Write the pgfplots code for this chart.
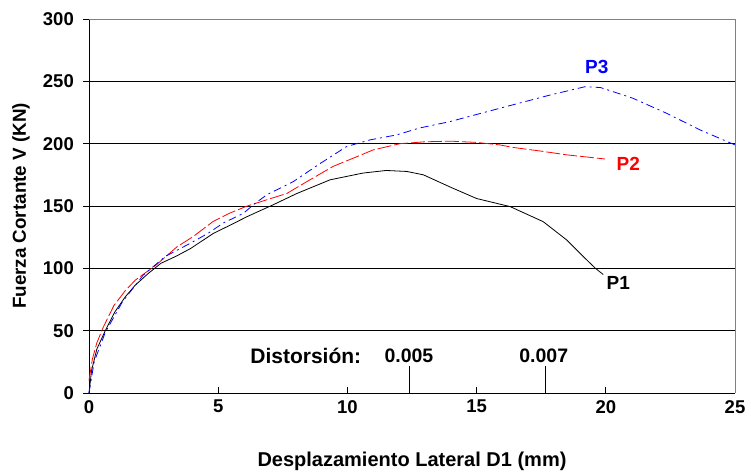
\documentclass[border=0pt]{standalone}
\usepackage{fontspec}
\setmainfont{Liberation Sans}
\usepackage{pgfplots}
\pgfplotsset{compat=1.18}
\usetikzlibrary{calc}
\begin{document}
\fontsize{18}{21}\selectfont\bfseries
\begin{tikzpicture}
\begin{axis}[name=ax,
  scale only axis, width=646pt, height=374pt,
  xmin=0, xmax=25, ymin=0, ymax=300,
  xtick={0,5,...,25}, ytick={0,50,...,300},
  axis lines*=left,
  axis line style={black, line width=0.8pt},
  tick align=inside,
  major tick length=6pt,
  tick style={black, line width=0.8pt},
  ytick style={xshift=-6pt},
  ymajorgrids, major grid style={black, line width=0.8pt},
  /pgf/number format/assume math mode=true,
  ticklabel style={font=\fontsize{18.5}{21}\selectfont\bfseries},
  yticklabel style={xshift=-9pt},
  xticklabel style={yshift=-1pt},
  xlabel={Desplazamiento Lateral D1 (mm)},
  ylabel={Fuerza Cortante V (KN)},
  xlabel style={font=\fontsize{20}{24}\selectfont\bfseries, yshift=-27pt},
  ylabel style={font=\fontsize{18.8}{22}\selectfont\bfseries, yshift=1pt},
  clip=false,
]
\addplot[black, line width=0.8pt] coordinates {
(0,0)(0.1,18)(0.3,35)(0.63,50)(1.0,65)(1.4,77)(1.79,86.5)(2.3,96)(2.78,104)(3.4,110)(3.94,116)(4.81,128)(5.5,135)(6.1,141.3)(7.13,151)(8.04,160)(9.33,171)(10.6,176.4)(11.5,178.5)(12.3,177.7)(12.94,175)(14,165)(15,156)(16.3,149.5)(17.58,137.4)(18.49,122.7)(19.2,108)(19.6,100)(19.9,95)};
\addplot[red, line width=0.8pt, dash pattern=on 14pt off 3pt] coordinates {
(0,10)(0.13,27)(0.3,40)(0.55,52.7)(0.96,70)(1.4,82)(1.79,90.5)(2.6,102.7)(3.39,117)(4.04,125.6)(4.81,137.7)(5.46,144.4)(6.1,149.8)(6.88,155)(7.65,160)(8.55,171)(9.45,181.8)(10.3,189)(11,195)(12.04,200)(13,201.5)(14,202)(15,201)(15.9,199)(16.4,197)(17.5,194)(18.5,191)(19.97,187.7)};
\addplot[blue, line width=0.8pt, dash pattern=on 8pt off 4pt on 2pt off 4pt] coordinates {
(0,0)(0.2,25)(0.63,48.6)(1.29,73)(2.1,94.6)(2.95,109.5)(3.91,120)(4.6,128)(5.2,136.4)(5.97,144)(6.36,151)(6.88,159)(7.9,169.5)(8.94,184)(9.97,197.7)(10.87,203)(11.9,207)(12.8,212.6)(13.97,217.7)(15.9,228.4)(17.84,239)(19.2,245.7)(19.8,245)(21.05,236.4)(22.36,224.3)(23.65,211)(25,199)};
\draw[gray, line width=0.8pt] (rel axis cs:0,1) -- (rel axis cs:1,1) -- (rel axis cs:1,0);
\draw[black, line width=0.8pt] (axis cs:12.4,0) -- (axis cs:12.4,21.6);
\draw[black, line width=0.8pt] (axis cs:17.65,0) -- (axis cs:17.65,21.6);
\node[font=\fontsize{21}{24}\selectfont\bfseries] at (axis cs:8.39,30) {Distorsión:};
\node[font=\fontsize{19.5}{23}\selectfont\bfseries] at (axis cs:12.38,30) {0.005};
\node[font=\fontsize{19.5}{23}\selectfont\bfseries] at (axis cs:17.6,30) {0.007};
\node[blue, font=\fontsize{19}{22}\selectfont\bfseries] at (axis cs:19.65,261.6) {P3};
\node[red, font=\fontsize{19}{22}\selectfont\bfseries] at (axis cs:20.87,184) {P2};
\node[black, font=\fontsize{19}{22}\selectfont\bfseries] at (axis cs:20.48,88) {P1};
\end{axis}
\pgfresetboundingbox
\path ($(ax.south west)+(-89pt,-79pt)$) rectangle ($(ax.north east)+(16pt,19pt)$);
\end{tikzpicture}
\end{document}
